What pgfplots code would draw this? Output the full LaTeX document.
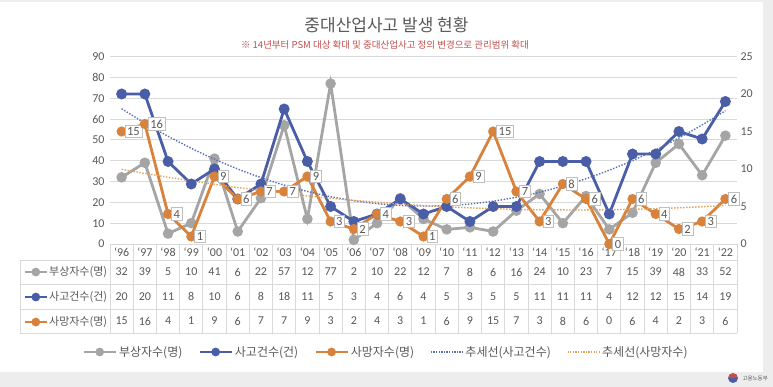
\documentclass[border=0pt]{standalone}
\usepackage{fontspec}
\usepackage{pgfplots}
\usepackage{pgfplotstable}
\pgfplotsset{compat=1.18}
\setmainfont{Carlito}
\newfontfamily\kr{Noto Sans CJK KR}
\definecolor{textc}{HTML}{595959}
\definecolor{gridc}{HTML}{D9D9D9}
\definecolor{grayser}{HTML}{A5A5A5}
\definecolor{blueser}{HTML}{4A5EA8}
\definecolor{orangeser}{HTML}{D9823B}
\definecolor{bluetr}{HTML}{5A6FB8}
\definecolor{orangetr}{HTML}{E3A35F}
\definecolor{redsub}{HTML}{C0504D}
\definecolor{bgc}{HTML}{EDEDED}
\definecolor{boxc}{HTML}{BFBFBF}

\pgfplotstableread{
x g b o tb to
0 32 20 15 18.04 9.96
1 39 20 16 16.12 9.41
2 5 11 4 14.37 8.90
3 10 8 1 12.76 8.41
4 41 10 9 11.31 7.96
5 6 6 6 10.00 7.53
6 22 8 7 8.85 7.13
7 57 18 7 7.85 6.76
8 12 11 9 7.01 6.41
9 77 5 3 6.31 6.10
10 2 3 2 5.77 5.82
11 10 4 4 5.38 5.56
12 22 6 3 5.14 5.33
13 12 4 1 5.06 5.13
14 7 5 6 5.12 4.96
15 8 3 9 5.34 4.82
16 6 5 15 5.71 4.71
17 16 5 7 6.23 4.62
18 24 11 3 6.90 4.56
19 10 11 8 7.73 4.54
20 23 11 6 8.71 4.54
21 7 4 0 9.84 4.57
22 15 12 6 11.12 4.63
23 39 12 4 12.55 4.71
24 48 15 2 14.14 4.83
25 33 14 3 15.88 4.97
26 52 19 6 17.77 5.15
}\datatable

\pgfplotsset{
  linelegend/.style={legend image code/.code={\draw[mark repeat=2,mark phase=2,##1] plot coordinates {(0pt,0pt) (#1,0pt) (2*#1,0pt)};}},
}

\begin{document}
\begin{tikzpicture}[x=1pt,y=1pt]
\fill[bgc] (0,0) rectangle (773,387);
\fill[white] (0,15) rectangle (763,385);
\node[font=\kr\fontsize{17}{20}\selectfont, text=textc] at (386.5,362) {중대산업사고 발생 현황};
\node[font=\kr\fontsize{9.5}{11}\selectfont, text=redsub] at (385,342) {※ 14년부터 PSM 대상 확대 및 중대산업사고 정의 변경으로 관리범위 확대};
% table grid
\foreach \k in {0,...,27} \draw[gridc, line width=0.8pt] ({110+\k*23.2222},143) -- ({110+\k*23.2222},54);
\foreach \yy in {127,103,78,54} \draw[gridc, line width=0.8pt] (20,\yy) -- (737,\yy);
\draw[gridc, line width=0.8pt] (20,127) -- (20,54);
% table values
\foreach \v [count=\i from 0] in {32,39,5,10,41,6,22,57,12,77,2,10,22,12,7,8,6,16,24,10,23,7,15,39,48,33,52}
  \node[font=\fontsize{12}{14}\selectfont, text=textc] at ({110+(\i+0.5)*23.2222},115) {\v};
\foreach \v [count=\i from 0] in {20,20,11,8,10,6,8,18,11,5,3,4,6,4,5,3,5,5,11,11,11,4,12,12,15,14,19}
  \node[font=\fontsize{12}{14}\selectfont, text=textc] at ({110+(\i+0.5)*23.2222},90.5) {\v};
\foreach \v [count=\i from 0] in {15,16,4,1,9,6,7,7,9,3,2,4,3,1,6,9,15,7,3,8,6,0,6,4,2,3,6}
  \node[font=\fontsize{12}{14}\selectfont, text=textc] at ({110+(\i+0.5)*23.2222},66) {\v};
% logo
\fill[redsub] (733,9) ++(0:5) arc (0:180:5) -- cycle;
\fill[blueser] (733,9) ++(180:5) arc (180:360:5) -- cycle;
\node[font=\kr\fontsize{5.5}{6}\selectfont, text=textc, anchor=west] at (739,9) {고용노동부};

\begin{axis}[
  at={(110pt,143pt)}, anchor=south west,
  scale only axis, width=627pt, height=187.5pt,
  xmin=-0.5, xmax=26.5, ymin=0, ymax=90,
  ytick={0,10,...,90}, xtick={0,...,26},
  xticklabels={‘96,‘97,‘98,‘99,‘00,‘01,‘02,‘03,‘04,‘05,‘06,‘07,‘08,‘09,‘10,‘11,‘12,‘13,‘14,‘15,‘16,‘17,‘18,‘19,‘20,‘21,‘22},
  axis line style={draw=none}, tick style={draw=none},
  ymajorgrids, grid style={gridc, line width=0.8pt},
  ticklabel style={font=\fontsize{12}{14}\selectfont, text=textc},
  yticklabel style={xshift=-2pt},
  /pgf/number format/assume math mode=true,
  clip=false,
  linelegend=11pt,
  legend style={at={(-0.143,-0.283)}, anchor=west, draw=none, fill=none,
    font=\kr\fontsize{11}{13}\selectfont, text=textc, legend cell align=left,
    row sep=9.5pt, nodes={inner sep=1pt, text height=10pt, text depth=3.5pt}},
]
\addlegendimage{grayser, line width=2.6pt, mark=*, mark size=3pt}
\addlegendentry{부상자수(명)}
\addlegendimage{blueser, line width=2.6pt, mark=*, mark size=3pt}
\addlegendentry{사고건수(건)}
\addlegendimage{orangeser, line width=2.6pt, mark=*, mark size=3pt}
\addlegendentry{사망자수(명)}
\addplot[grayser, line width=2.8pt, mark=*, mark size=3.8pt, forget plot] table[x=x,y=g]{\datatable};
\end{axis}

\begin{axis}[
  at={(110pt,143pt)}, anchor=south west,
  scale only axis, width=627pt, height=187.5pt,
  xmin=-0.5, xmax=26.5, ymin=0, ymax=25,
  ytick={0,5,...,25}, xtick=\empty,
  axis y line*=right, axis x line=none,
  axis line style={draw=none}, tick style={draw=none},
  ticklabel style={font=\fontsize{12}{14}\selectfont, text=textc},
  /pgf/number format/assume math mode=true,
  clip=false,
  linelegend=16pt,
  legend columns=5,
  legend style={at={(0.4402,-0.576)}, anchor=center, draw=none, fill=none,
    font=\kr\fontsize{12}{14}\selectfont, text=textc,
    /tikz/every even column/.append style={column sep=14pt}},
]
\addlegendimage{grayser, line width=2.6pt, mark=*, mark size=3pt}
\addlegendentry{부상자수(명)}
\addlegendimage{blueser, line width=2.6pt, mark=*, mark size=3pt}
\addlegendentry{사고건수(건)}
\addlegendimage{orangeser, line width=2.6pt, mark=*, mark size=3pt}
\addlegendentry{사망자수(명)}
\addlegendimage{bluetr, line width=1.3pt, dash pattern=on 1.3pt off 1.3pt}
\addlegendentry{추세선(사고건수)}
\addlegendimage{orangetr, line width=1.3pt, dash pattern=on 1.3pt off 1.3pt}
\addlegendentry{추세선(사망자수)}
\addplot[blueser, line width=2.8pt, mark=*, mark size=4pt, forget plot] table[x=x,y=b]{\datatable};
\addplot[orangeser, line width=2.8pt, mark=*, mark size=3.6pt, forget plot,
  nodes near coords, nodes near coords align={horizontal},
  every node near coord/.append style={xshift=3pt, fill=white, draw=boxc, line width=0.6pt,
    inner sep=2.2pt, font=\fontsize{12.5}{14}\selectfont, text=textc}]
  table[x=x,y=o]{\datatable};
\addplot[bluetr, line width=1.4pt, dash pattern=on 1.4pt off 1.6pt, smooth, forget plot] table[x=x,y=tb]{\datatable};
\addplot[orangetr, line width=1.4pt, dash pattern=on 1.4pt off 1.6pt, smooth, forget plot] table[x=x,y=to]{\datatable};
\end{axis}
\end{tikzpicture}
\end{document}
